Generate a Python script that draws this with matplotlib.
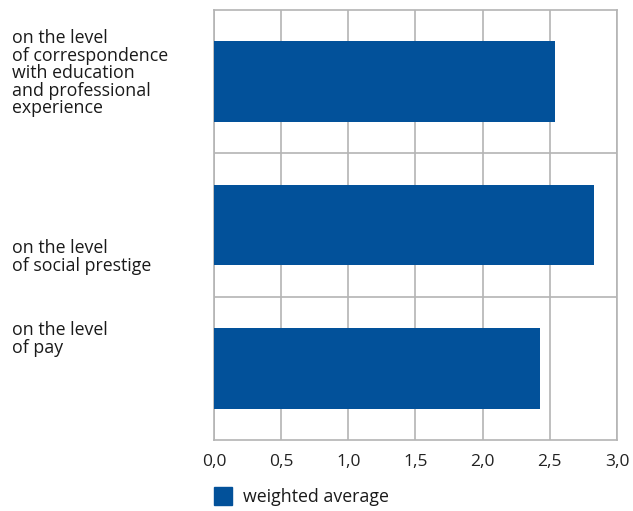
import matplotlib.pyplot as plt
from matplotlib.patches import Rectangle

# data
categories = ['on the level\nof correspondence\nwith education\nand professional\nexperience',
              'on the level\nof social prestige',
              'on the level\nof pay']
values = [2.54, 2.83, 2.43]
xticks = [0.0, 0.5, 1.0, 1.5, 2.0, 2.5, 3.0]
xtick_labels = ['0,0', '0,5', '1,0', '1,5', '2,0', '2,5', '3,0']
legend_label = 'weighted average'

W, H = 633, 511
bar_color = '#02519a'
grid_color = '#b4b4b4'
plt.rcParams['font.family'] = ['Open Sans', 'DejaVu Sans']

fig = plt.figure(figsize=(W / 100, H / 100), dpi=100)
ax = fig.add_axes([214 / W, 1 - 440 / H, (617 - 214) / W, (440 - 10) / H])

ypos = list(range(len(categories)))
ax.barh(ypos, values, height=0.565, color=bar_color, zorder=3)
ax.set_xlim(0, 3.0)
ax.set_ylim(len(categories) - 0.5, -0.5)

# grid
for x in xticks:
    ax.axvline(x, color=grid_color, lw=1.2, zorder=1)
for y in [0.5, 1.5]:
    ax.axhline(y, color=grid_color, lw=1.2, zorder=1)
for s in ax.spines.values():
    s.set_color(grid_color)
    s.set_linewidth(1.2)

ax.set_xticks(xticks)
ax.set_xticklabels(xtick_labels, fontsize=12.5, color='#222222')
ax.tick_params(axis='x', length=0, pad=10)
ax.set_yticks([])

# category labels (left aligned at figure edge)
label_tops = [29, 239, 321]
for lab, top in zip(categories, label_tops):
    fig.text(12 / W, 1 - top / H, lab, ha='left', va='top', fontsize=12.8,
             color='#1a1a1a', linespacing=0.97)

# legend
fig.patches.append(Rectangle((214 / W, 1 - 505 / H), 18 / W, 18 / H,
                             transform=fig.transFigure, color=bar_color))
fig.text(243 / W, 1 - 497 / H, legend_label, ha='left', va='center',
         fontsize=12.8, color='#1a1a1a')

fig.savefig('out.png', dpi=100)
